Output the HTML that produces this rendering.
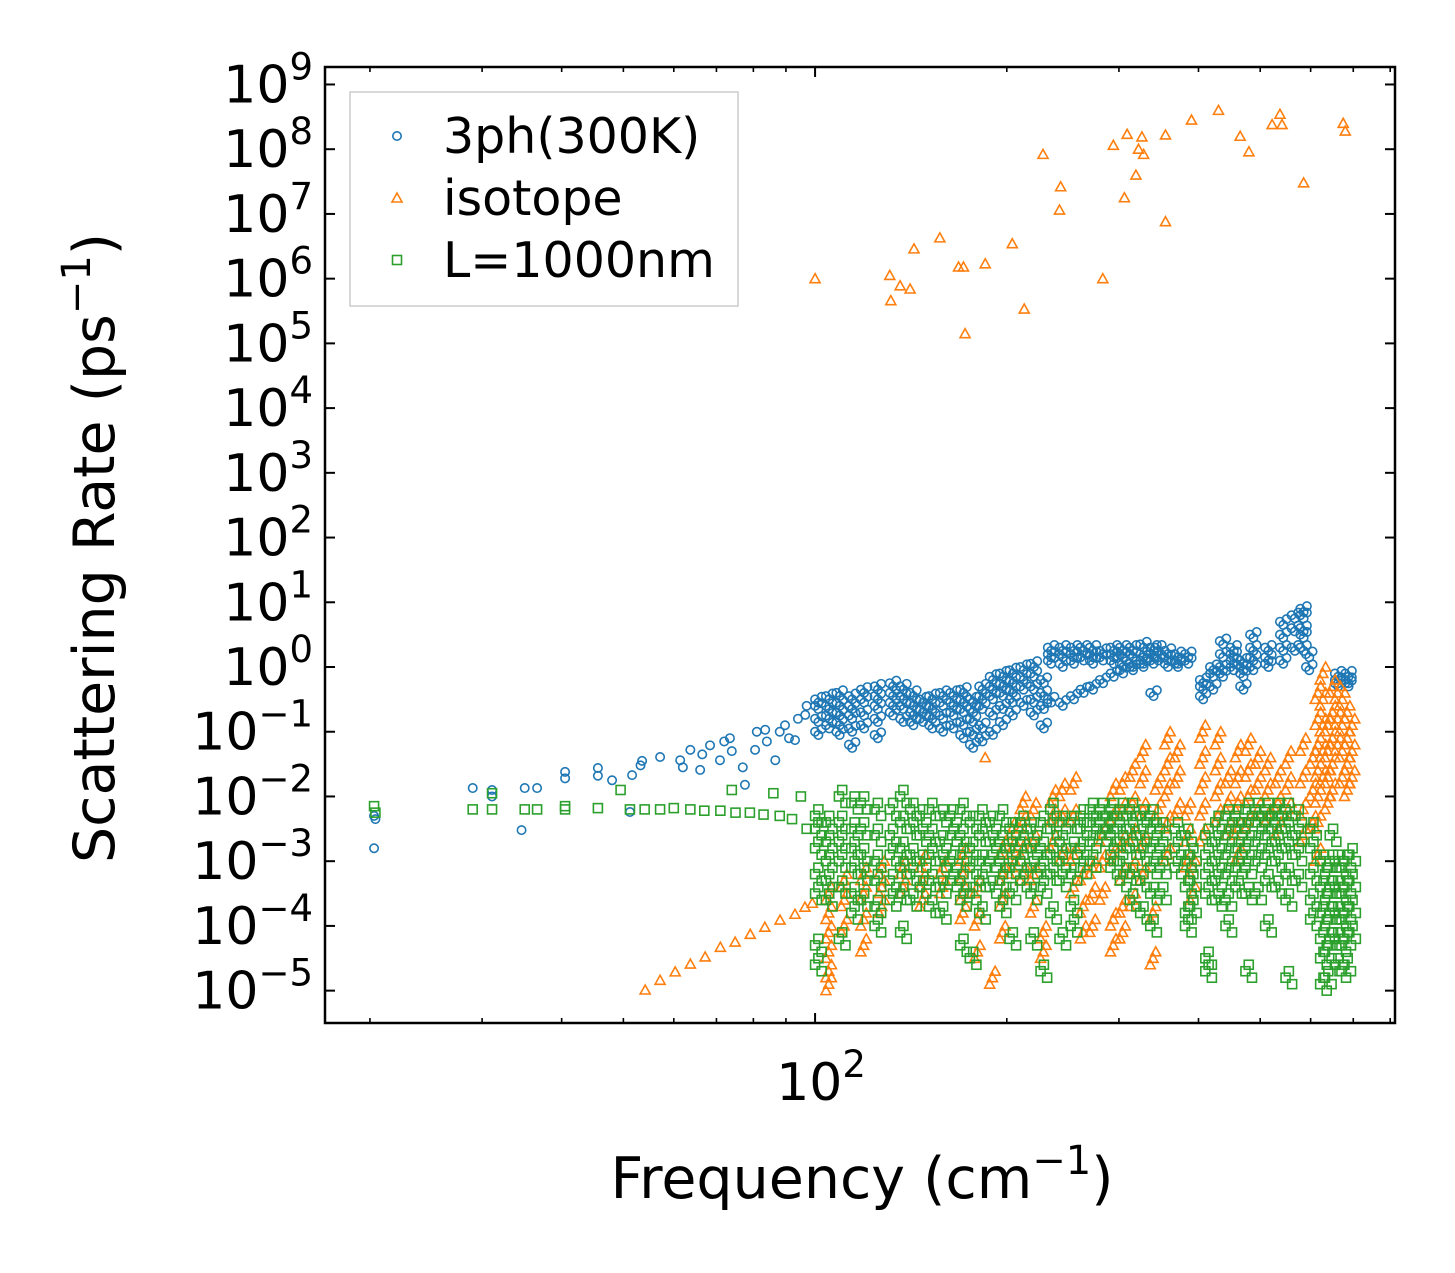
<!DOCTYPE html>
<html><head><meta charset="utf-8"><style>
html,body{margin:0;padding:0;background:#fff}
svg{display:block;font-family:"DejaVu Sans","Liberation Sans",sans-serif}
</style></head><body>
<svg id="chart" width="1455" height="1273" viewBox="0 0 1455 1273" xmlns="http://www.w3.org/2000/svg">
<rect width="1455" height="1273" fill="#fff"/>
<g id="marks"></g>
<g id="axes"></g>
<text x="862" y="1198" font-size="57" text-anchor="middle">Frequency (cm<tspan dy="-24" font-size="40">−1</tspan><tspan dy="24">)</tspan></text>
<text transform="translate(114,548) rotate(-90)" font-size="57" text-anchor="middle">Scattering Rate (ps<tspan dy="-24" font-size="40">−1</tspan><tspan dy="24">)</tspan></text>
<g>
<rect x="350" y="92" width="388" height="214" fill="#fff" stroke="#ccc" stroke-width="1.5"/>
<circle cx="397" cy="136" r="4.2" fill="none" stroke="#1f77b4" stroke-width="1.6"/>
<text x="443" y="153" font-size="49">3ph(300K)</text>
<polygon points="397,193 402,202 392,202" fill="none" stroke="#ff7f0e" stroke-width="1.6"/>
<text x="443" y="215" font-size="49">isotope</text>
<rect x="392.5" y="255.5" width="9" height="9" fill="none" stroke="#2ca02c" stroke-width="1.6"/>
<text x="443" y="277" font-size="49">L=1000nm</text>
</g>
</svg>
<script>
// Frequencies in cm^-1; rates stored as log10(rate in ps^-1)
const phFreq=[20.3,20.4,20.3,29,31.1,31.1,34.6,35,36.6,40.5,40.5,45.6,45.6,48,51.2,51.6,53.2,53.5,57.1,61.4,62,63.7,66,66.5,68.4,70.9,72,73.5,74,77.6,77,80.5,81,83.5,84,86.6,88,89.7,91,93,94,96.5,97];
const phLogRate=[-2.8,-2.35,-2.3,-1.87,-2.0,-1.9,-2.52,-1.87,-1.87,-1.62,-1.72,-1.56,-1.68,-1.75,-2.24,-1.67,-1.52,-1.45,-1.39,-1.44,-1.55,-1.28,-1.59,-1.35,-1.21,-1.44,-1.15,-1.1,-1.3,-1.82,-1.55,-1.28,-1.0,-0.97,-1.15,-1.44,-1.0,-0.9,-1.1,-1.13,-0.8,-0.74,-0.6];
const phBandFreq=[100,104,108,113,118,124,131,136,141,146,151,157,163,169,175,181,188,195,202,210,218,226,232,242,252,261,270,280,291,301,312,324,336,342,354,367,381,402,417,432,449,465,482,509,537,560,578,590,655,680];
const phBandLogRate=[[-0.5,-0.6,-0.8,-1.0],[-0.45,-0.6,-0.75,-0.9],[-0.4,-0.55,-0.7,-0.85,-1.0],[-0.45,-0.6,-0.75,-0.95,-1.2],[-0.35,-0.5,-0.7,-0.9],[-0.3,-0.45,-0.6,-0.8,-1.05],[-0.25,-0.4,-0.55,-0.7],[-0.3,-0.45,-0.6,-0.8],[-0.4,-0.55,-0.7,-0.85],[-0.5,-0.65,-0.8],[-0.45,-0.6,-0.75,-0.9],[-0.4,-0.55,-0.75,-0.95],[-0.4,-0.55,-0.7,-0.9],[-0.35,-0.5,-0.65,-0.85,-1.05],[-0.5,-0.65,-0.8,-1.0,-1.2],[-0.3,-0.45,-0.6,-0.9,-1.1],[-0.15,-0.3,-0.45,-0.7,-1.0],[-0.1,-0.25,-0.4,-0.6,-0.85],[-0.05,-0.2,-0.35,-0.5,-0.7],[0.0,-0.15,-0.3,-0.55],[0.05,-0.1,-0.3,-0.5,-0.7],[-0.2,-0.4,-0.6,-0.9],[0.3,0.2,0.1,-0.5],[0.3,0.2,0.05,-0.55],[0.3,0.2,0.1,-0.45],[0.3,0.15,-0.35],[0.3,0.2,0.1,-0.3],[0.25,0.15,-0.2],[0.3,0.2,0.1,-0.1],[0.3,0.2,0.05,-0.05],[0.3,0.2,0.05,0.0],[0.35,0.2,0.1,0.05],[0.3,0.2,0.1,-0.4],[0.3,0.15],[0.25,0.15,0.05],[0.2,0.1,0.05],[0.2,0.1],[-0.3,-0.45,-0.2],[-0.3,-0.1,0.0],[-0.1,0.0,0.2,0.4],[0.0,0.1,0.2,0.3],[-0.1,0.0,0.1,-0.3],[0.0,0.15,0.5,0.3],[0.05,0.15,0.3],[0.1,0.3,0.5,0.7],[0.3,0.6,0.8],[0.5,0.9,0.8,0.6,0.3],[0.2,0.0],[-0.1,-0.2,-0.25],[-0.1,-0.2,-0.25]];

const isoFreq=[100,131,131.5,136,141,143,157,168,171,172,185,204,213,228,243,242,283,294,306,309,319,322,326,328,355,355,390,430,465,480,522,537,541,585,675,680,54.1,57.1,60.3,63.7,67.2,71,74.9,79.1,83.4,88.1,93,96.4,99,185];
const isoLogRate=[6.0,6.05,5.66,5.89,5.84,6.46,6.63,6.18,6.18,5.15,6.23,6.54,5.53,7.92,7.42,7.06,6.0,8.06,7.25,8.23,7.6,8.0,8.19,7.92,8.22,6.88,8.45,8.6,8.2,7.96,8.38,8.54,8.38,7.48,8.4,8.28,-4.99,-4.84,-4.71,-4.59,-4.48,-4.33,-4.25,-4.13,-4.02,-3.91,-3.82,-3.71,-3.65,-1.4];
const isoSpikeFreq=[104,110,118,126,136,146,157,169,178,188,195,202,210,218,226,234,242,252,261,270,280,291,301,312,324,336,342,354,367,381,388,402,425,441,457,474,491,509,528,548,578,599,610,621,632,643,655,666,678,690];
const isoSpikeLogRate=[[-5,-4.8,-4.5,-4.2,-3.9,-3.6],[-3.4,-3.7,-4.1],[-3.3,-3.6,-4.0,-4.4],[-3.2,-3.5,-3.8],[-3.2,-3.5],[-3.1,-3.4,-3.7],[-3.2,-3.5],[-3.0,-3.3,-3.6,-3.9],[-3.5,-4.0,-4.5],[-4.9],[-2.9,-3.3,-3.7,-4.2],[-2.6,-2.9,-3.2],[-2.2,-2.5,-2.9,-3.3],[-2.3,-2.8,-3.3,-3.8],[-4.2,-4.5],[-2.1,-2.4,-2.8],[-2.0,-2.4,-3.0],[-1.9,-2.4,-3.0,-3.5],[-3.3,-3.8,-4.2],[-4.1,-3.6,-3.2],[-3.6,-3.1,-2.7],[-2.4,-2.0,-3.0,-4.0,-4.4],[-1.9,-2.3,-2.8,-3.3,-3.8,-4.2],[-1.7,-2.2,-2.7,-3.2,-3.7],[-1.4,-1.8,-2.3,-2.8,-3.3],[-4.6,-3.9],[-1.9,-2.3],[-1.2,-1.6,-2.0,-2.5,-3.0],[-1.4,-1.8,-2.3],[-2.3,-2.7,-3.1],[-3.2,-3.6],[-1.1,-1.5,-1.9,-2.3,-2.7],[-1.2,-1.6,-2.0,-2.4],[-1.8,-2.2,-2.6],[-1.4,-1.8,-2.2,-2.6,-3.0],[-1.3,-1.7,-2.1,-2.5],[-1.5,-1.9,-2.3],[-1.6,-2.0,-2.4],[-1.8,-2.2,-2.6],[-1.5,-1.9,-2.3],[-1.3,-1.8,-2.3,-2.7],[-1.5,-2.0,-2.5],[-0.5,-0.9,-1.3,-1.7,-2.1,-2.5,-3.0],[-0.2,-0.6,-1.0,-1.4,-1.8],[-1.0,-1.4,-1.8,-2.2],[-0.4,-0.8,-1.2,-1.6,-2.0],[-0.5,-0.9,-1.3],[-0.6,-1.0,-1.4,-1.8],[-0.8,-1.2,-1.6,-2.0],[-1.0,-1.4,-1.8]];

const bdFreq=[20.3,20.4,29,31.1,31.1,35,36.6,40.5,40.5,45.6,49.5,51.2,54,57.1,60,63.7,67,71,74,75,79,83,86,88,92,95,97];
const bdLogRate=[-2.15,-2.25,-2.2,-1.95,-2.2,-2.2,-2.2,-2.2,-2.15,-2.18,-1.9,-2.2,-2.2,-2.2,-2.18,-2.2,-2.22,-2.22,-1.9,-2.25,-2.25,-2.28,-1.95,-2.3,-2.35,-2.0,-2.5];
const bdBandFreq=[100,104,109,114,118,124,131,136,141,146,151,157,163,169,175,181,188,195,202,210,218,226,234,242,252,261,270,280,291,301,312,324,336,348,367,381,388,410,425,441,457,474,491,509,528,548,568,599,621,632,643,655,666,678,690];
const bdBandLogRate=[[-2.3,-2.5,-2.8,-3.2,-3.5,-4.3,-4.6],[-2.4,-2.7,-3.0,-3.3,-3.6],[-2.0,-2.4,-2.7,-3.0,-3.4,-4.2],[-2.1,-2.5,-2.8,-3.1,-3.5,-3.8],[-2.1,-2.5,-2.9,-3.2,-3.6],[-2.2,-2.6,-3.0,-3.3,-3.7,-4.0],[-2.2,-2.6,-2.9,-3.3,-3.6],[-2.0,-2.4,-2.8,-3.1,-3.5,-4.1],[-2.2,-2.5,-2.9,-3.2,-3.6],[-2.3,-2.6,-3.0,-3.4],[-2.2,-2.6,-2.9,-3.3,-3.7],[-2.3,-2.7,-3.0,-3.4,-3.8],[-2.3,-2.6,-3.0,-3.3],[-2.2,-2.6,-2.9,-3.3,-3.6,-4.3],[-2.4,-2.8,-3.1,-3.5,-4.5],[-2.3,-2.6,-3.0,-3.3,-3.8],[-2.4,-2.7,-3.0,-3.4],[-2.3,-2.7,-3.0,-3.3,-3.7],[-2.5,-2.8,-3.1,-3.5,-4.2],[-2.4,-2.7,-3.0,-3.3],[-2.5,-2.8,-3.1,-3.5,-4.2],[-2.4,-2.8,-3.1,-3.4,-4.7],[-2.2,-2.5,-2.9,-3.2,-3.8],[-2.4,-2.7,-3.0,-3.3,-4.2],[-2.4,-2.8,-3.2,-3.7,-4.0],[-2.3,-2.5,-2.8,-3.1],[-2.2,-2.4,-2.7,-3.0],[-2.2,-2.4,-2.6],[-2.2,-2.4,-2.6,-2.9,-3.1],[-2.2,-2.4,-2.7,-3.0,-3.3],[-2.2,-2.5,-2.8,-3.2,-3.6],[-2.3,-2.6,-2.9,-3.3,-3.8],[-2.3,-2.5,-2.8,-3.1,-3.5,-4.0],[-2.5,-2.8,-3.1,-3.5],[-2.5,-2.8,-3.1],[-2.6,-3.0,-3.4,-3.8,-4.0],[-2.9,-3.3,-3.7],[-2.6,-2.9,-3.2,-3.5,-4.5,-4.7],[-2.4,-2.7,-3.0,-3.3,-3.6],[-2.3,-2.6,-2.9,-3.2,-3.6,-4.0],[-2.3,-2.5,-2.8,-3.1,-3.4],[-2.2,-2.5,-2.8,-3.1,-3.5,-4.7],[-2.2,-2.4,-2.7,-3.0,-3.5],[-2.2,-2.4,-2.6,-2.9,-3.3,-4.0],[-2.2,-2.4,-2.7,-3.0,-3.4],[-2.2,-2.5,-2.8,-3.2,-3.6,-4.8],[-2.3,-2.6,-2.9,-3.3],[-2.5,-2.8,-3.2,-3.6,-3.9],[-3.0,-3.4,-3.8,-4.2,-4.5,-4.9],[-3.2,-3.6,-4.0,-4.4,-4.8],[-2.6,-3.0,-3.4,-3.8,-4.2],[-3.0,-3.4,-3.8,-4.2,-4.6],[-3.1,-3.5,-3.9,-4.3,-4.7],[-3.0,-3.4,-3.8,-4.2,-4.6],[-2.9,-3.3,-3.7,-4.1]];

const yTickExps=[9,8,7,6,5,4,3,2,1,0,-1,-2,-3,-4,-5];
const xMinorTicks=[20,30,40,50,60,70,80,90,200,300,400,500,600,700,800];

const L=325,R=1395,T=67,B=1023;
const xMin=Math.log10(17.0),xMax=Math.log10(814);
const yMin=-5.5,yMax=9.27;
function xs(f){return L+(Math.log10(f)-xMin)/(xMax-xMin)*(R-L);}
function ys(e){return B-(e-yMin)/(yMax-yMin)*(B-T);}
const NS='http://www.w3.org/2000/svg';
const marks=document.getElementById('marks'),axes=document.getElementById('axes');
function mk(tag,attrs,parent){const el=document.createElementNS(NS,tag);for(const k in attrs)el.setAttribute(k,attrs[k]);parent.appendChild(el);return el;}
function circ(f,e){const el=mk('circle',{cx:xs(f),cy:ys(e),r:4.2,fill:'none',stroke:'#1f77b4','stroke-width':1.6},marks);

}
function tri(f,e){const x=xs(f),y=ys(e);const el=mk('polygon',{points:`${x},${y-5} ${x+5},${y+4} ${x-5},${y+4}`,fill:'none',stroke:'#ff7f0e','stroke-width':1.6},marks);

}
function sq(f,e){const x=xs(f),y=ys(e);const el=mk('rect',{x:x-4.5,y:y-4.5,width:9,height:9,fill:'none',stroke:'#2ca02c','stroke-width':1.6},marks);

}
phFreq.forEach((f,i)=>circ(f,phLogRate[i]));
phBandFreq.forEach((f,i)=>phBandLogRate[i].forEach(e=>{circ(f,e);circ(f*1.012,e-0.05);circ(f*1.024,e+0.04);}));
isoFreq.forEach((f,i)=>tri(f,isoLogRate[i]));
isoSpikeFreq.forEach((f,i)=>isoSpikeLogRate[i].forEach(e=>{tri(f,e);tri(f*1.01,e+0.1);tri(f*1.02,e+0.2);}));
bdFreq.forEach((f,i)=>sq(f,bdLogRate[i]));
bdBandFreq.forEach((f,i)=>bdBandLogRate[i].forEach(e=>{sq(f,e);sq(f*1.012,e+0.1);sq(f*1.024,e-0.1);}));

const fr=mk('rect',{x:L,y:T,width:R-L,height:B-T,fill:'none',stroke:'#000','stroke-width':2.5},axes);


yTickExps.forEach(e=>{const y=ys(e);
 mk('line',{x1:L,x2:L+10,y1:y,y2:y,stroke:'#000','stroke-width':2},axes);
 mk('line',{x1:R,x2:R-10,y1:y,y2:y,stroke:'#000','stroke-width':2},axes);
 const t=mk('text',{x:L-12,y:y+18,'font-size':52,'text-anchor':'end'},axes);
 
 
 const exp=(e<0?'−':'')+Math.abs(e);
 t.innerHTML=`10<tspan dy="-23" font-size="37">${exp}</tspan>`;});
xMinorTicks.forEach(f=>{const x=xs(f);
 mk('line',{x1:x,x2:x,y1:B,y2:B-5,stroke:'#000','stroke-width':1.6},axes);
 mk('line',{x1:x,x2:x,y1:T,y2:T+5,stroke:'#000','stroke-width':1.6},axes);});
{const x=xs(100);
 mk('line',{x1:x,x2:x,y1:B,y2:B-10,stroke:'#000','stroke-width':2},axes);
 mk('line',{x1:x,x2:x,y1:T,y2:T+10,stroke:'#000','stroke-width':2},axes);
 const t=mk('text',{x:x+6,y:1100,'font-size':52,'text-anchor':'middle'},axes);
 
 
 t.innerHTML='10<tspan dy="-23" font-size="37">2</tspan>';}
</script>
</body></html>
